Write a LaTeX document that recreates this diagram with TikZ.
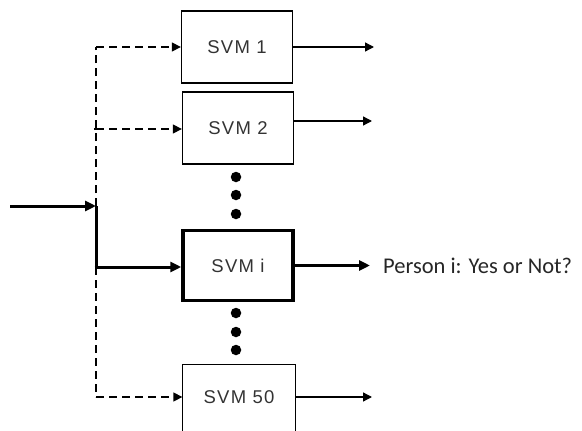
\documentclass[tikz,border=0pt]{standalone}
\usepackage{fontspec}
\setmainfont{Liberation Sans}
\newfontfamily\boxfont[LetterSpace=7]{Liberation Sans}
\newfontfamily\labelfont{Carlito}
\usetikzlibrary{arrows.meta}
\begin{document}
\begin{tikzpicture}[x=1pt,y=-1pt,
  svmbox/.style={draw,line width=1.3pt,minimum width=111pt,minimum height=72pt,inner sep=0pt,
    font=\boxfont\fontsize{18.5}{20}\selectfont,text=black!80},
  thickbox/.style={svmbox,line width=3.5pt,minimum width=110pt,minimum height=70pt},
  thin/.style={line width=1.3pt,-{Triangle[length=9pt,width=9pt]}},
  dashline/.style={thin,dash pattern=on 8pt off 5pt},
  bold/.style={line width=3pt,-{Triangle[length=11pt,width=10pt]}},
  vdot/.style={circle,fill=black,inner sep=0pt,minimum size=10.5pt}]
\useasboundingbox (0,0) rectangle (582,431);
\begin{scope}
\clip (0,0) rectangle (582,431);
% classifier boxes
\node[svmbox] (s1) at (237,47) {SVM 1};
\node[svmbox] (s2) at (238,128) {SVM 2};
\node[thickbox] (si) at (238,265.5) {SVM i};
% the last box runs past the lower edge
\node[svmbox,draw=none,minimum width=112pt,minimum height=64pt] (s50) at (239,397) {SVM 50};
\draw[line width=1.3pt] (s50.north west) rectangle ([yshift=-40pt]s50.south east);
% ellipsis dots
\foreach \y/\n in {177/a,195/b,214/c,313/d,332/e,350/f}
  \node[vdot] (d\n) at (236,\y) {};
% input line and split point
\coordinate (in) at (10,206);
\coordinate (split) at (96,206);
\coordinate (top) at (96,47);
\coordinate (mid) at (96,129);
\coordinate (low) at (96,267);
\coordinate (bot) at (96,397);
\draw[bold] (in) -- (split);
\draw[line width=3pt] (split) -- (low);
\draw[bold] ([xshift=-1.5pt]low) -- (si.west |- low);
% dashed feeds to the other classifiers
\draw[dashline,-] (split) -- (top);
\draw[dashline] (top) -- (s1.west |- top);
\draw[dashline] (mid) -- (s2.west |- mid);
\draw[line width=1.3pt] (mid) -- ++(-2,0);
\draw[dashline,-] (low) -- (bot);
\draw[dashline] (bot) -- (s50.west |- bot);
% outputs
\coordinate (o1) at (374,47);
\coordinate (o2) at (372,121);
\coordinate (oi) at (370,265.5);
\coordinate (o50) at (372,397);
\draw[thin] (s1.east |- o1) -- (o1);
\draw[thin] (s2.east |- o2) -- (o2);
\draw[bold] (si.east |- oi) -- (oi);
\draw[thin] (s50.east |- o50) -- (o50);
\node[anchor=west,inner sep=0pt,font=\labelfont\fontsize{22.5}{26}\selectfont,text=black!85] (res) at (383,265.5) {Person i: Yes or Not?};
\end{scope}
\end{tikzpicture}
\end{document}
